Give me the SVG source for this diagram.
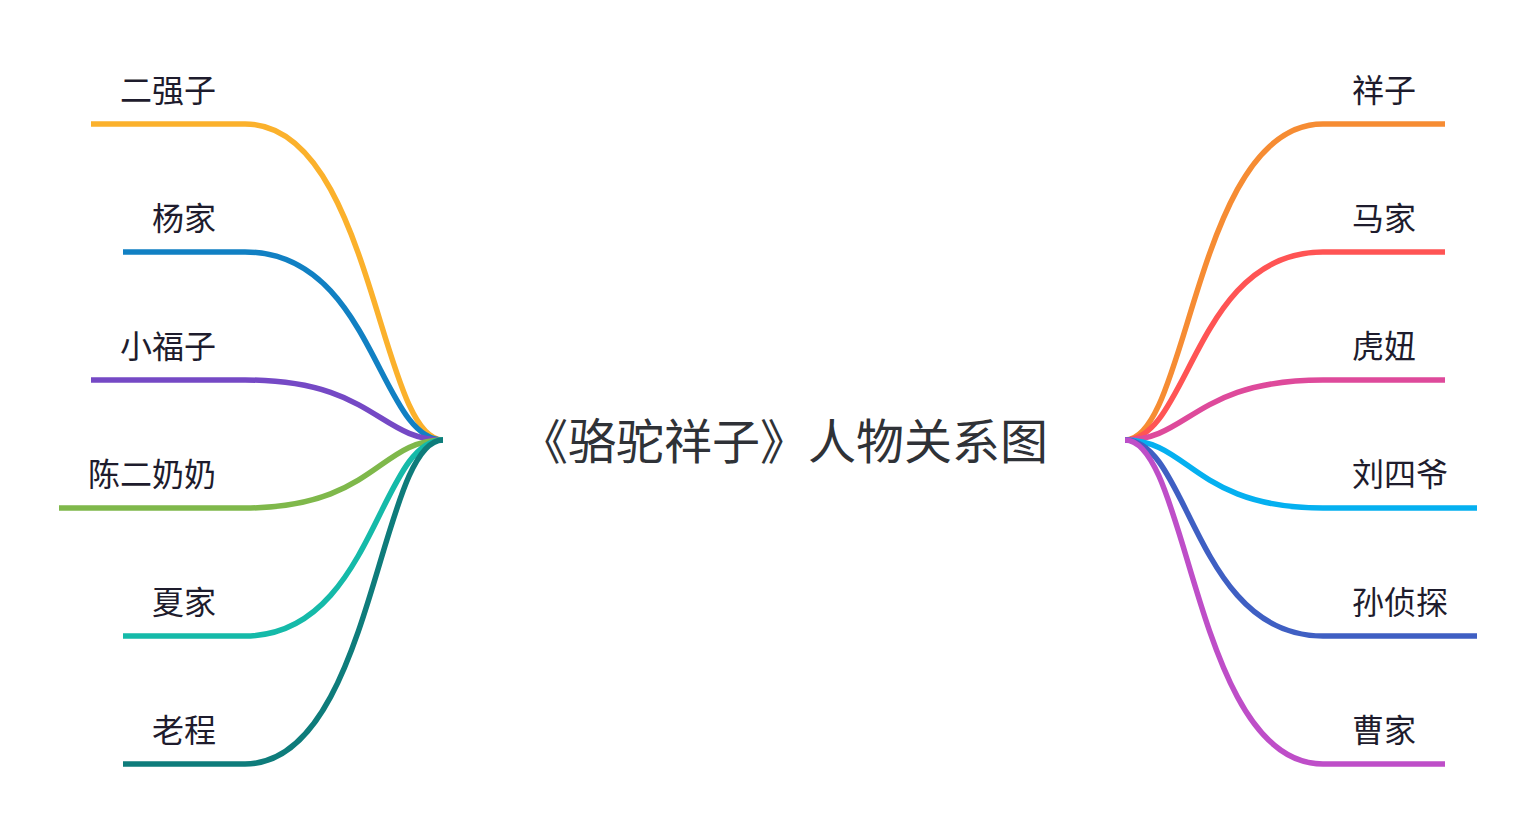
<svg xmlns="http://www.w3.org/2000/svg" width="1535" height="828" viewBox="0 0 1535 828">
<style>
  .link { fill: none; stroke-width: 5.5; stroke-linecap: butt; }
  .lbl { font-family: "Noto Sans CJK SC", "Noto Sans", sans-serif; font-size: 32px; fill: #1e1c2d; }
  .l { text-anchor: end; }
  .r { text-anchor: start; }
  .title { font-family: "Noto Sans CJK SC", "Noto Sans", sans-serif; font-size: 48px; fill: #2f3237; text-anchor: middle; }
</style>
<rect width="1535" height="828" fill="#ffffff"/>
<g id="connectors">
  <path class="link" stroke="#fbb12c" d="M91,124 H245 C373,124 379,440 443,440"/>
  <path class="link" stroke="#1180c3" d="M123,252 H245 C373,252 379,440 443,440"/>
  <path class="link" stroke="#7549c5" d="M91,380 H245 C373,380 379,440 443,440"/>
  <path class="link" stroke="#7fb84b" d="M59,508 H245 C373,508 379,440 443,440"/>
  <path class="link" stroke="#15baa9" d="M123,636 H245 C373,636 379,440 443,440"/>
  <path class="link" stroke="#0e7c7b" d="M123,764 H245 C373,764 379,440 443,440"/>
  <path class="link" stroke="#f68c33" d="M1445,124 H1323 C1195,124 1189,440 1125,440"/>
  <path class="link" stroke="#ff5454" d="M1445,252 H1323 C1195,252 1189,440 1125,440"/>
  <path class="link" stroke="#de4a9b" d="M1445,380 H1323 C1195,380 1189,440 1125,440"/>
  <path class="link" stroke="#05b0f0" d="M1477,508 H1323 C1195,508 1189,440 1125,440"/>
  <path class="link" stroke="#3f5fc3" d="M1477,636 H1323 C1195,636 1189,440 1125,440"/>
  <path class="link" stroke="#be4ec8" d="M1445,764 H1323 C1195,764 1189,440 1125,440"/>
</g>
<g id="root"><text class="title" x="784" y="459">《骆驼祥子》人物关系图</text></g>
<g id="n-erqiangzi"><text class="lbl l" x="216" y="102">二强子</text></g>
<g id="n-yangjia"><text class="lbl l" x="216" y="230">杨家</text></g>
<g id="n-xiaofuzi"><text class="lbl l" x="216" y="358">小福子</text></g>
<g id="n-chenernainai"><text class="lbl l" x="216" y="486">陈二奶奶</text></g>
<g id="n-xiajia"><text class="lbl l" x="216" y="614">夏家</text></g>
<g id="n-laocheng"><text class="lbl l" x="216" y="742">老程</text></g>
<g id="n-xiangzi"><text class="lbl r" x="1352" y="102">祥子</text></g>
<g id="n-majia"><text class="lbl r" x="1352" y="230">马家</text></g>
<g id="n-huniu"><text class="lbl r" x="1352" y="358">虎妞</text></g>
<g id="n-liusiye"><text class="lbl r" x="1352" y="486">刘四爷</text></g>
<g id="n-sunzhentan"><text class="lbl r" x="1352" y="614">孙侦探</text></g>
<g id="n-caojia"><text class="lbl r" x="1352" y="742">曹家</text></g>
</svg>
